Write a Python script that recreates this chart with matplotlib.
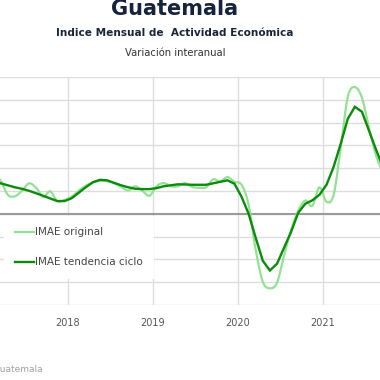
import numpy as np
import matplotlib
matplotlib.use('Agg')
import matplotlib.pyplot as plt
from matplotlib.path import Path
from matplotlib.patches import PathPatch
from matplotlib.lines import Line2D

# ---- data (monthly, Feb 2017 .. Sep 2021), % interannual variation ----
start_year, start_month = 2017, 2
imae_original = [5.0, 4.34, 2.50, 2.30, 3.03, 4.01, 3.42, 2.24, 2.96, 1.64, 1.84,
                 2.24, 3.03, 3.68, 4.14, 4.34, 4.28, 4.01, 3.55, 3.07, 3.62, 3.03, 2.37,
                 3.62, 4.04, 3.62, 3.62, 4.04, 3.55, 3.42, 3.49, 4.54, 4.25, 4.83, 4.21,
                 3.82, 1.18, -4.74, -8.95, -9.80, -9.08, -5.53, -2.11, 0.39, 1.75, 1.05, 3.49,
                 1.58, 2.50, 8.68, 15.39, 16.67, 15.26, 11.32, 7.63, 5.39]
imae_tendencia = [4.21, 4.01, 3.75, 3.49, 3.29, 3.03, 2.70, 2.37, 2.01, 1.68, 1.67,
                  2.04, 2.76, 3.49, 4.14, 4.47, 4.41, 4.08, 3.75, 3.49, 3.29, 3.25, 3.25,
                  3.38, 3.62, 3.75, 3.88, 3.86, 3.82, 3.82, 3.82, 4.01, 4.21, 4.41, 3.95,
                  2.24, 0.0, -3.16, -6.18, -7.46, -6.58, -4.47, -2.37, 0.13, 1.32, 1.78, 2.50,
                  3.82, 6.18, 9.21, 12.50, 14.08, 13.42, 10.92, 8.42, 6.05]
year_ticks = [2018, 2019, 2020, 2021]
series_labels = ["IMAE original", "IMAE tendencia ciclo"]

title = "Guatemala"
subtitle = "Indice Mensual de  Actividad Económica"
subsubtitle = "Variación interanual"
source = "Fuente: Banco de Guatemala"

c_orig = '#93e193'
c_trend = '#0a8c0a'

n = len(imae_original)
t = np.array([start_year + (start_month - 1 + i + 0.5) / 12 for i in range(n)])

W = H = 380
fig = plt.figure(figsize=(3.8, 3.8), dpi=100)
fig.patch.set_facecolor('white')

ax = fig.add_axes([0, 1 - 305 / H, 1, (305 - 77) / H])
px_per_year = 85.0
x0 = 2018 - 68 / px_per_year
ax.set_xlim(x0, x0 + W / px_per_year)
ax.set_ylim(-12, 18)
ax.set_yticks(np.arange(-12, 19, 3))
ax.set_xticks(year_ticks)
ax.set_xticklabels([str(y) for y in year_ticks])
ax.tick_params(axis='x', length=0, labelsize=7, colors='#555555', pad=9)
ax.tick_params(axis='y', length=0, labelleft=False)
for s in ax.spines.values():
    s.set_visible(False)
ax.grid(True, color='#dddddd', lw=1.0, zorder=0)
ax.set_axisbelow(True)
ax.axhline(0, color='#9a9a9a', lw=1.5, zorder=1)

# smooth spline (Catmull-Rom as cubic Bezier) for the original series
P = np.column_stack([t, imae_original])
verts = [tuple(P[0])]
codes = [Path.MOVETO]
for i in range(len(P) - 1):
    p0 = P[i - 1] if i > 0 else P[i]
    p1 = P[i]
    p2 = P[i + 1]
    p3 = P[i + 2] if i + 2 < len(P) else P[i + 1]
    c1 = p1 + (p2 - p0) / 6.0
    c2 = p2 - (p3 - p1) / 6.0
    verts += [tuple(c1), tuple(c2), tuple(p2)]
    codes += [Path.CURVE4] * 3
ax.add_patch(PathPatch(Path(verts, codes), fill=False, edgecolor=c_orig,
                       lw=1.6, zorder=3, capstyle='round', joinstyle='round'))
ax.plot(t, imae_tendencia, color=c_trend, lw=1.7, zorder=4, solid_joinstyle='miter')

handles = [Line2D([], [], color=c_orig, lw=1.6), Line2D([], [], color=c_trend, lw=1.7)]
leg = ax.legend(handles, series_labels, loc='upper left',
                bbox_to_anchor=(4 / W, 1 - 216 / H), bbox_transform=fig.transFigure,
                fontsize=7.5, handlelength=1.75, handletextpad=0.1, labelspacing=1.9,
                borderpad=1.1, borderaxespad=0, frameon=True, fancybox=False)
leg.get_frame().set_facecolor('white')
leg.get_frame().set_edgecolor('none')
leg.get_frame().set_alpha(1)
for txt in leg.get_texts():
    txt.set_color('#444444')

fig.text(175 / W, 1 - 9 / H, title, ha='center', va='center', fontsize=15,
         fontweight='bold', color='#16233f')
fig.text(175 / W, 1 - 33 / H, subtitle, ha='center', va='center', fontsize=7.6,
         fontweight='bold', color='#1c2538')
fig.text(175 / W, 1 - 53 / H, subsubtitle, ha='center', va='center', fontsize=7.2,
         color='#333333')
fig.text(43 / W, 1 - 369 / H, source, ha='right', va='center', fontsize=6.5,
         color='#a0a0a0')

fig.savefig('out.png', dpi=100, facecolor='white')
